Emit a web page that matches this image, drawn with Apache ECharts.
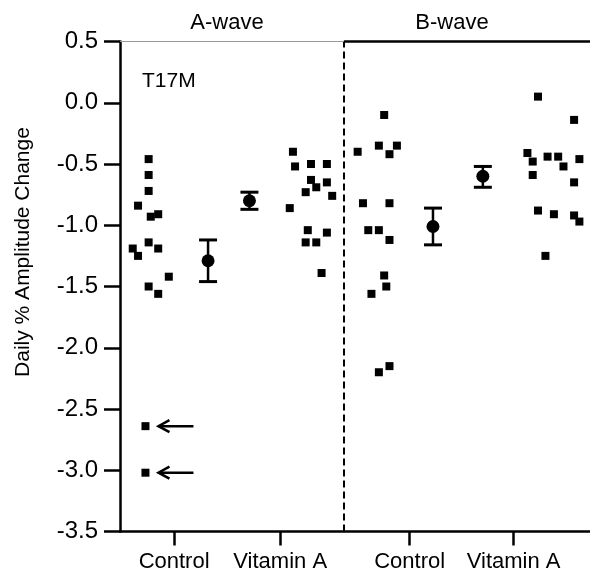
<!DOCTYPE html>
<html>
<head>
<meta charset="utf-8">
<script src="https://cdn.jsdelivr.net/npm/echarts@6/dist/echarts.min.js"></script>
<style>
  html, body { margin: 0; padding: 0; background: #fff; }
  #chart { width: 590px; height: 579px; }
</style>
</head>
<body>
<div id="chart"></div>
<script>
// group positions on the x axis and their labels
var groupPos = [1, 2, 3.22, 4.2];
var groupNames = ['Control', 'Vitamin A', 'Control', 'Vitamin A'];
var separatorX = 2.6;

// individual animals [x (jittered), daily % change]
var aControl = [[0.76, -0.46], [0.76, -0.59], [0.76, -0.72], [0.66, -0.84], [0.78, -0.93],
    [0.85, -0.91], [0.61, -1.19], [0.66, -1.25], [0.76, -1.14], [0.85, -1.19],
    [0.95, -1.42], [0.76, -1.50], [0.85, -1.56], [0.73, -2.64], [0.73, -3.02]];
var aVitA = [[2.12, -0.40], [2.14, -0.52], [2.29, -0.50], [2.44, -0.50], [2.29, -0.63],
    [2.44, -0.65], [2.34, -0.69], [2.24, -0.73], [2.49, -0.76], [2.09, -0.86],
    [2.26, -1.04], [2.44, -1.06], [2.24, -1.14], [2.34, -1.14], [2.39, -1.39]];
var bControl = [[2.98, -0.10], [2.73, -0.40], [2.93, -0.35], [3.10, -0.35], [3.03, -0.42],
    [2.78, -0.82], [3.03, -0.82], [2.83, -1.04], [2.93, -1.04], [3.03, -1.12],
    [2.98, -1.41], [3.00, -1.50], [2.86, -1.56], [3.03, -2.15], [2.93, -2.20]];
var bVitA = [[4.43, 0.05], [4.77, -0.14], [4.33, -0.41], [4.38, -0.48], [4.52, -0.44],
    [4.62, -0.44], [4.82, -0.46], [4.67, -0.52], [4.38, -0.59], [4.77, -0.65],
    [4.43, -0.88], [4.58, -0.91], [4.77, -0.92], [4.82, -0.97], [4.50, -1.25]];

// group means with error bars
var meanX = [1.32, 1.71, 3.44, 3.91];
var meanY = [-1.29, -0.80, -1.01, -0.60];
var errLow = [-1.46, -0.87, -1.16, -0.69];
var errHigh = [-1.12, -0.73, -0.86, -0.52];

// outliers marked with arrows
var outliers = aControl.filter(function (p) { return p[1] < -2.5; });

var FONT = 'Liberation Sans';
var chart = echarts.init(document.getElementById('chart'));

var meanData = meanX.map(function (x, i) { return [x, meanY[i]]; });
var errData = meanX.map(function (x, i) { return [x, errLow[i], errHigh[i]]; });

function scatterSeries(name, data) {
    return {
        name: name,
        type: 'scatter',
        symbol: 'rect',
        symbolSize: 8,
        itemStyle: { color: '#000', opacity: 1 },
        data: data,
        z: 3
    };
}

var option = {
    animation: false,
    backgroundColor: '#fff',
    grid: { left: 120, right: 0, top: 41.5, bottom: 47.5, containLabel: false },
    xAxis: {
        type: 'value',
        min: 0.49,
        max: 4.92,
        splitLine: { show: false },
        axisLine: { onZero: false, lineStyle: { color: '#000', width: 2.5 } },
        axisTick: {
            customValues: groupPos,
            length: 14,
            lineStyle: { color: '#000', width: 2.5 }
        },
        axisLabel: {
            customValues: groupPos,
            margin: 19,
            color: '#000',
            fontFamily: FONT,
            fontSize: 22,
            formatter: function (v) {
                for (var i = 0; i < groupPos.length; i++) {
                    if (Math.abs(groupPos[i] - v) < 0.01) return groupNames[i];
                }
                return '';
            }
        }
    },
    yAxis: {
        type: 'value',
        min: -3.5,
        max: 0.5,
        interval: 0.5,
        splitLine: { show: false },
        axisLine: { show: true, onZero: false, lineStyle: { color: '#000', width: 2.5 } },
        axisTick: { length: 16, lineStyle: { color: '#000', width: 2.5 } },
        axisLabel: {
            margin: 22,
            color: '#000',
            fontFamily: FONT,
            fontSize: 24,
            formatter: function (v) { return v.toFixed(1); }
        }
    },
    graphic: [
        { type: 'text', x: 227, y: 23, style: { text: 'A-wave', font: '22px "Liberation Sans"', fill: '#000', align: 'center', verticalAlign: 'middle' } },
        { type: 'text', x: 452, y: 23, style: { text: 'B-wave', font: '22px "Liberation Sans"', fill: '#000', align: 'center', verticalAlign: 'middle' } },
        { type: 'text', x: 142, y: 81, style: { text: 'T17M', font: '21px "Liberation Sans"', fill: '#000', align: 'left', verticalAlign: 'middle' } },
        { type: 'text', x: 23, y: 252, rotation: Math.PI / 2, style: { text: 'Daily % Amplitude Change', font: '21px "Liberation Sans"', fill: '#000', align: 'center', verticalAlign: 'middle' } }
    ],
    series: [
        scatterSeries('A Control', aControl),
        scatterSeries('A Vitamin A', aVitA),
        scatterSeries('B Control', bControl),
        scatterSeries('B Vitamin A', bVitA),
        {
            name: 'error',
            type: 'custom',
            encode: { x: 0, y: [1, 2] },
            data: errData,
            z: 4,
            renderItem: function (params, api) {
                var x = api.value(0);
                var lo = api.coord([x, api.value(1)]);
                var hi = api.coord([x, api.value(2)]);
                var w = 9;
                var st = { stroke: '#000', lineWidth: 2.5 };
                return {
                    type: 'group',
                    children: [
                        { type: 'line', shape: { x1: lo[0], y1: lo[1], x2: hi[0], y2: hi[1] }, style: st },
                        { type: 'line', shape: { x1: lo[0] - w, y1: lo[1], x2: lo[0] + w, y2: lo[1] }, style: { stroke: '#000', lineWidth: 3 } },
                        { type: 'line', shape: { x1: hi[0] - w, y1: hi[1], x2: hi[0] + w, y2: hi[1] }, style: { stroke: '#000', lineWidth: 3 } }
                    ]
                };
            }
        },
        {
            name: 'mean',
            type: 'scatter',
            symbol: 'circle',
            symbolSize: 13,
            itemStyle: { color: '#000', opacity: 1 },
            data: meanData,
            z: 5
        },
        {
            name: 'arrows',
            type: 'custom',
            data: outliers,
            z: 4,
            renderItem: function (params, api) {
                var p = api.coord([api.value(0), api.value(1)]);
                var tip = p[0] + 13;
                var st = { stroke: '#000', lineWidth: 2.5, fill: null };
                return {
                    type: 'group',
                    children: [
                        { type: 'line', shape: { x1: tip, y1: p[1], x2: p[0] + 48, y2: p[1] }, style: st },
                        { type: 'polyline', shape: { points: [[tip + 11, p[1] - 6], [tip, p[1]], [tip + 11, p[1] + 6]] }, style: st }
                    ]
                };
            }
        },
        {
            name: 'frame',
            type: 'line',
            data: [],
            markLine: {
                silent: true,
                symbol: ['none', 'none'],
                label: { show: false },
                data: [
                    [{ coord: [separatorX, -3.5], lineStyle: { color: '#000', width: 2, type: [7, 4] } },
                     { coord: [separatorX, 0.5] }],
                    [{ coord: [0.49, 0.5], lineStyle: { color: '#999', width: 1.2, type: 'solid' } },
                     { coord: [separatorX, 0.5] }],
                    [{ coord: [separatorX, 0.5], lineStyle: { color: '#000', width: 2.5, type: 'solid' } },
                     { coord: [4.92, 0.5] }]
                ]
            }
        }
    ]
};

chart.setOption(option);
</script>
</body>
</html>
